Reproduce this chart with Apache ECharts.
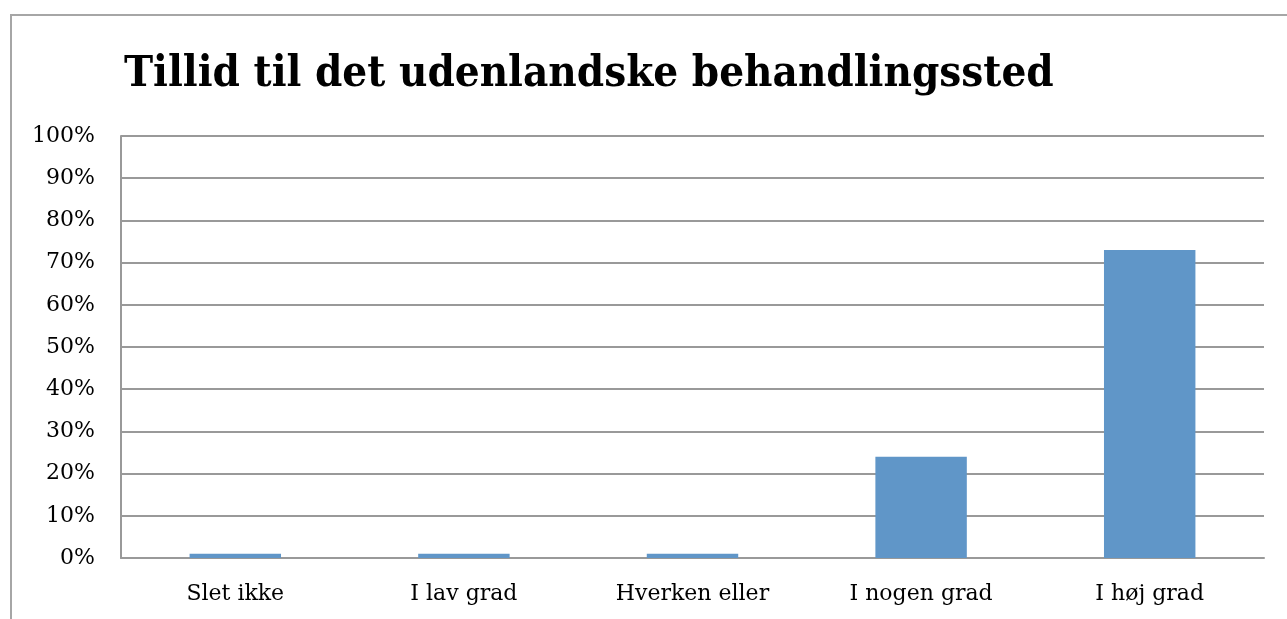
<!DOCTYPE html>
<html><head><meta charset="utf-8">
<script src="https://cdn.jsdelivr.net/npm/echarts@6/dist/echarts.min.js"></script>
<style>html,body{margin:0;padding:0;background:#fff}#c{width:1287px;height:619px}</style>
</head><body><div id="c"></div>
<script>
var title = 'Tillid til det udenlandske behandlingssted';
var categories = ['Slet ikke', 'I lav grad', 'Hverken eller', 'I nogen grad', 'I høj grad'];
var values = [1, 1, 1, 24, 73];
var yTicks = [0, 10, 20, 30, 40, 50, 60, 70, 80, 90, 100];

var font = '"DejaVu Serif", "Liberation Serif", serif';
var titleFont = '"DejaVu Serif Condensed", "DejaVu Serif", serif';
var chart = echarts.init(document.getElementById('c'), null, {renderer: 'canvas'});
chart.setOption({
  animation: false,
  backgroundColor: '#fff',
  graphic: [{
    type: 'rect', shape: {x: 11, y: 15, width: 1290, height: 700},
    style: {fill: 'none', stroke: '#a6a6a6', lineWidth: 2}, silent: true, z: -1
  }],
  title: {
    text: title, left: 119, top: 48,
    textStyle: {fontFamily: titleFont, fontWeight: 'bold', fontSize: 43.5, color: '#000'}
  },
  grid: {left: 121, right: 23, top: 136, bottom: 61, containLabel: false},
  xAxis: {
    type: 'category', data: categories,
    axisLine: {show: true, lineStyle: {color: '#999', width: 2}},
    axisTick: {show: false},
    axisLabel: {fontFamily: font, fontSize: 22, color: '#000', margin: 25}
  },
  yAxis: {
    type: 'value', min: 0, max: 100, interval: 10,
    axisLine: {show: true, lineStyle: {color: '#999', width: 2}},
    axisTick: {show: false},
    splitLine: {lineStyle: {color: '#999', width: 2}},
    axisLabel: {fontFamily: font, fontSize: 22, color: '#000', margin: 26,
      formatter: function (v) { return yTicks.indexOf(v) >= 0 ? v + '%' : ''; }}
  },
  series: [{
    type: 'bar', data: values, barWidth: '40%',
    itemStyle: {color: '#6096c8'}
  }]
});
</script></body></html>
